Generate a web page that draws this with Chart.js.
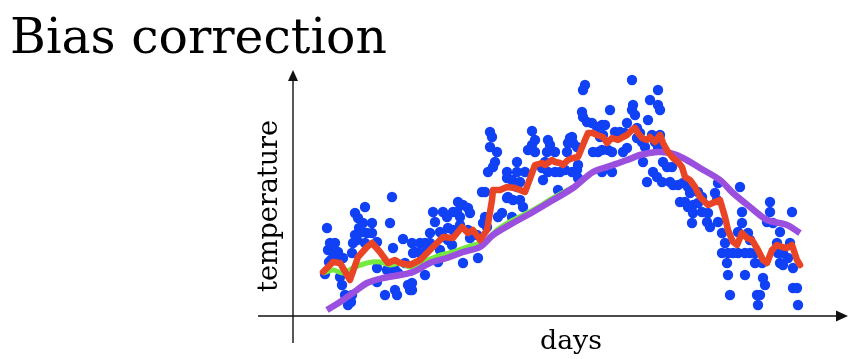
<!DOCTYPE html>
<html>
<head>
<meta charset="utf-8">
<script src="https://cdn.jsdelivr.net/npm/chart.js@4/dist/chart.umd.min.js"></script>
<style>
  html, body { margin: 0; padding: 0; background: #fff; }
  #wrap { width: 862px; height: 359px; }
</style>
</head>
<body>
<div id="wrap"><canvas id="c" width="862" height="359"></canvas></div>
<script>
// ---- texts ----
const titleText = 'Bias correction';
const xLabel = 'days';
const yLabel = 'temperature';

// ---- data: [day, temperature] (arbitrary units) ----
const dailyTemps = [
  [32,42],[34,88],[37,73],[42,73],[35,66],[40,63],[45,64],[38,56],[47,39],[49,31],
  [52,21],[56,19],[59,21],[55,11],[58,14],[62,103],[65,98],[70,93],[79,93],[72,109],
  [99,119],[97,93],[62,81],[69,84],[74,83],[79,83],[60,73],[72,73],[84,74],[59,63],
  [64,76],[100,68],[110,77],[119,73],[84,48],[94,46],[102,46],[105,43],[112,53],[120,63],
  [84,34],[92,21],[102,26],[104,21],[115,31],[117,26],[50,58],[43,60],[36,54],[66,88],
  [123,49],[132,41],[119,33],[119,26],[127,73],[132,73],[137,73],[122,64],[127,63],
  [134,66],[137,83],[147,84],[150,79],[160,86],[167,91],[175,86],[184,81],[142,94],
  [140,104],[150,104],[154,99],[160,104],[164,104],[167,99],[165,114],[170,111],[175,108],
  [177,103],[170,53],[185,58],[159,71],[177,78],[147,66],[155,76],[192,99],[194,89],
  [192,124],[189,124],[197,184],[199,179],[197,169],[204,164],[202,154],[200,149],[195,144],
  [214,144],[214,138],[214,118],[209,103],[205,99],[190,93],[145,54],[155,88],
  [215,119],[220,116],[227,116],[230,109],[219,99],[219,136],[227,134],[224,129],[224,154],
  [224,144],[232,144],[239,185],[242,176],[239,171],[235,166],[242,164],[255,176],[257,171],
  [254,164],[262,164],[252,154],[249,148],[255,144],[262,144],[267,144],[250,136],[265,126],
  [279,179],[280,173],[275,173],[274,164],[284,169],[284,146],[285,151],[279,144],[289,204],
  [290,199],[292,231],[290,226],[299,193],[304,189],[309,191],[294,194],[300,164],[305,164],
  [309,166],[309,144],[319,144],[277,178],[272,146],[285,138],
  [339,236],[365,226],[357,216],[365,211],[367,206],[340,211],[339,206],[342,201],[317,206],
  [355,196],[334,193],[312,191],[322,184],[327,184],[332,183],[344,188],[347,183],[307,179],
  [310,181],[315,166],[319,164],[330,164],[334,168],[344,178],[349,174],[352,169],[359,181],
  [362,174],[367,181],[365,169],[350,154],[354,134],[360,144],[364,139],[370,154],[374,149],
  [379,149],[369,134],[377,134],[380,131],[385,131],[390,133],[395,129],[397,123],[387,114],
  [392,114],[395,109],[400,111],[405,113],[400,103],[399,93],
  [405,124],[409,119],[422,123],[424,116],[425,133],[447,129],[409,104],[415,103],[414,94],
  [417,89],[425,94],[449,104],[449,93],[477,114],[477,104],[499,104],[474,94],[480,93],
  [429,83],[432,73],[445,84],[455,83],[457,76],[487,84],[484,73],[497,73],
  [429,63],[435,63],[440,63],[445,63],[452,63],[457,63],[462,63],[485,63],[490,63],
  [462,53],[469,53],[487,53],[490,51],[495,58],[434,53],[435,41],[452,41],[500,48],
  [470,38],[472,31],[437,21],[464,21],[467,21],[465,11],[500,28],[504,28],[505,11]
];

// exponentially weighted average, beta = 0.9 (red)
const avgFast = [
  [30,44],[40,54],[47,53],[57,36],[65,59],[74,69],[79,73],[87,64],[95,53],[102,56],
  [107,53],[117,51],[127,56],[140,69],[150,79],[160,78],[169,89],[175,83],[180,86],[187,76],
  [194,86],[199,116],[200,126],[207,126],[214,129],[222,128],[227,126],[232,124],[242,151],
  [249,153],[252,151],[259,156],[262,154],[267,153],[270,151],[275,156],[280,158],[285,159],
  [292,176],[295,183],[300,183],[304,181],[310,179],[314,173],[319,178],[325,176],[330,179],
  [334,181],[339,186],[342,188],[345,183],[349,178],[354,176],[357,179],[362,174],[367,181],
  [370,173],[375,164],[380,158],[385,154],[389,149],[392,139],[397,136],[402,129],[407,119],
  [415,111],[422,114],[427,116],[432,99],[435,86],[440,74],[444,71],[449,83],[454,78],
  [459,76],[465,66],[470,56],[474,53],[479,66],[484,71],[489,69],[494,68],[499,71],
  [504,56],[507,51]
];

// beta = 0.98 with bias correction (green)
const avgCorrected = [
  [30,43],[40,46],[50,43],[60,48],[74,53],[87,54],[97,51],[107,53],[117,49],[130,54],
  [147,61],[160,64],[174,69],[187,73],[194,76],[204,86],[220,96],[240,106],[260,118],[280,129]
];

// beta = 0.98 without bias correction (purple)
const avgUncorrected = [
  [34,6],[47,14],[60,23],[74,33],[90,38],[107,41],[120,44],[137,53],[154,58],[170,64],
  [187,69],[200,81],[220,93],[240,104],[260,116],[280,128],[300,144],[320,151],[334,156],
  [347,161],[364,164],[377,163],[390,158],[407,148],[427,136],[440,123],[457,109],
  [474,96],[494,91],[507,83]
];

// ---- axis ranges (axes cross at 0,0) ----
const xRange = [-35, 555];
const yRange = [-27, 246];

const toXY = arr => arr.map(p => ({x: p[0], y: p[1]}));

function fitFont(ctx, text, family, targetWidth) {
  ctx.font = '100px ' + family;
  const w = ctx.measureText(text).width;
  return 100 * targetWidth / w;
}

const decor = {
  id: 'decor',
  beforeDatasetsDraw(chart) {
    const {ctx, chartArea, scales} = chart;
    const x0 = scales.x.getPixelForValue(0);
    const y0 = scales.y.getPixelForValue(0);
    ctx.save();
    ctx.strokeStyle = '#111';
    ctx.fillStyle = '#111';
    ctx.lineWidth = 1.4;
    // x axis
    ctx.beginPath();
    ctx.moveTo(chartArea.left, y0);
    ctx.lineTo(chartArea.right - 8, y0);
    ctx.stroke();
    ctx.beginPath();
    ctx.moveTo(chartArea.right, y0);
    ctx.lineTo(chartArea.right - 12, y0 - 5.5);
    ctx.lineTo(chartArea.right - 12, y0 + 5.5);
    ctx.closePath();
    ctx.fill();
    // y axis
    ctx.beginPath();
    ctx.moveTo(x0, chartArea.bottom);
    ctx.lineTo(x0, chartArea.top + 8);
    ctx.stroke();
    ctx.beginPath();
    ctx.moveTo(x0, chartArea.top);
    ctx.lineTo(x0 - 5, chartArea.top + 11);
    ctx.lineTo(x0 + 5, chartArea.top + 11);
    ctx.closePath();
    ctx.fill();
    ctx.restore();
  },
  afterDraw(chart) {
    const {ctx} = chart;
    const fam = '"DejaVu Serif", serif';
    ctx.save();
    ctx.fillStyle = '#000';
    ctx.textBaseline = 'alphabetic';
    // title
    let s = fitFont(ctx, titleText, fam, 377);
    ctx.font = s + 'px ' + fam;
    ctx.textAlign = 'left';
    ctx.fillText(titleText, 10, 53);
    // x label
    s = fitFont(ctx, xLabel, fam, 62);
    ctx.font = s + 'px ' + fam;
    ctx.textAlign = 'center';
    ctx.fillText(xLabel, 571, 349);
    // y label
    s = fitFont(ctx, yLabel, fam, 172);
    ctx.font = s + 'px ' + fam;
    ctx.translate(277, 206);
    ctx.rotate(-Math.PI / 2);
    ctx.textAlign = 'center';
    ctx.fillText(yLabel, 0, 0);
    ctx.restore();
  }
};

new Chart(document.getElementById('c'), {
  type: 'scatter',
  data: {
    datasets: [
      { label: 'daily temperature', data: toXY(dailyTemps), backgroundColor: '#1141f5',
        borderWidth: 0, pointRadius: 5.2, order: 4 },
      { label: 'beta 0.98 corrected', data: toXY(avgCorrected), showLine: true,
        borderColor: '#74ea3e', borderWidth: 5, pointRadius: 0, tension: 0.3, order: 3 },
      { label: 'beta 0.98', data: toXY(avgUncorrected), showLine: true,
        borderColor: '#9b4fde', borderWidth: 6.5, pointRadius: 0, tension: 0.3, order: 2 },
      { label: 'beta 0.9', data: toXY(avgFast), showLine: true,
        borderColor: '#ea4426', borderWidth: 6.5, pointRadius: 0, tension: 0, order: 1,
        borderJoinStyle: 'round', borderCapStyle: 'round' }
    ]
  },
  options: {
    responsive: false,
    animation: false,
    devicePixelRatio: 1,
    layout: { padding: { left: 258, right: 14, top: 70, bottom: 16 } },
    scales: {
      x: { type: 'linear', min: xRange[0], max: xRange[1], display: false },
      y: { type: 'linear', min: yRange[0], max: yRange[1], display: false }
    },
    plugins: { legend: { display: false }, tooltip: { enabled: false } }
  },
  plugins: [decor]
});
</script>
</body>
</html>
